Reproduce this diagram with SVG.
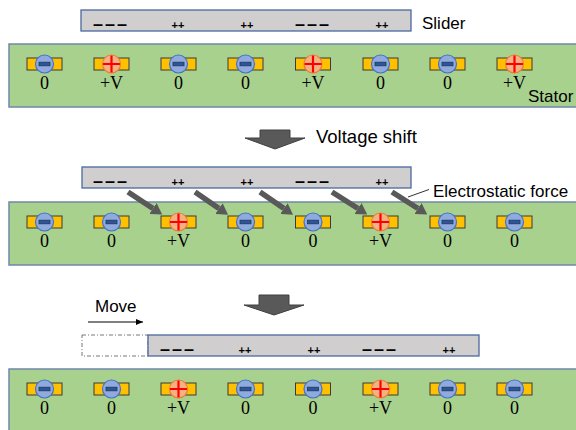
<svg xmlns="http://www.w3.org/2000/svg" xmlns:xlink="http://www.w3.org/1999/xlink" width="576" height="430" viewBox="0 0 576 430">
<style>
.stator{fill:#A9D18E;stroke:#6F87AB;stroke-width:1.5}
.slider{fill:#D0CECE;stroke:#4A69A0;stroke-width:1.3}
.pad{fill:#FFC000;stroke:#3B3B3B;stroke-width:1}
.nc{fill:#8FAADC;stroke:#4472C4;stroke-width:1.2}
.nb{fill:#2F5597;stroke:#1F3864;stroke-width:0.8}
.pc{fill:#F4B183;stroke:#ED7D31;stroke-width:1.2}
.px{stroke:#FF0000;stroke-width:2.2;fill:none}
.num{font-family:"Liberation Serif","Times New Roman",serif;font-size:18px;fill:#000;text-anchor:middle}
.lbl{font-family:"Liberation Sans",Arial,sans-serif;font-size:17px;fill:#000}
.minus{font-family:"Liberation Sans",Arial,sans-serif;font-size:18px;font-weight:bold;letter-spacing:2px;fill:#000;text-anchor:middle}
.plus{font-family:"Liberation Sans",Arial,sans-serif;font-size:11px;font-weight:bold;fill:#000;text-anchor:middle}
.force{stroke:#595959;stroke-width:5.5;fill:none}
.big{fill:#595959;stroke:#404040;stroke-width:1}
.thin{stroke:#000;stroke-width:1;fill:none}
</style>
<defs>
<marker id="fh" markerUnits="userSpaceOnUse" markerWidth="11" markerHeight="13" viewBox="0 -6.5 11 13" refX="0" refY="0" orient="auto">
<path d="M0,-6.5 L11,0 L0,6.5 z" fill="#595959"/>
</marker>
<marker id="mh" markerUnits="userSpaceOnUse" markerWidth="7" markerHeight="6" viewBox="0 -3 7 6" refX="7" refY="0" orient="auto">
<path d="M0,-3 L7,0 L0,3 z" fill="#000"/>
</marker>
<g id="neg">
<rect x="-17.5" y="-6" width="35" height="12" class="pad"/>
<circle r="9" class="nc"/>
<rect x="-5.5" y="-1.8" width="11" height="3.6" class="nb"/>
</g>
<g id="pos">
<rect x="-17.5" y="-6" width="35" height="12" class="pad"/>
<circle r="9" class="pc"/>
<path d="M-8.5,0H8.5M0,-8.5V8.5" class="px"/>
</g>
</defs>

<!-- Stage 1 -->
<g id="stator1">
<rect x="9" y="44" width="570" height="63" class="stator"/>
<text x="528" y="102" class="lbl">Stator</text>
</g>
<g id="slider1">
<rect x="81" y="10" width="330" height="21" class="slider"/>
<text x="111" y="29.5" class="minus">–––</text>
<text x="178" y="29" class="plus">++</text>
<text x="247" y="29" class="plus">++</text>
<text x="313" y="29.5" class="minus">–––</text>
<text x="382" y="29" class="plus">++</text>
<text x="422" y="29" class="lbl">Slider</text>
</g>
<g id="s1e1"><use xlink:href="#neg" x="44.5" y="64"/><text x="44.5" y="89" class="num">0</text></g>
<g id="s1e2"><use xlink:href="#pos" x="111.5" y="64"/><text x="111.5" y="89" class="num">+V</text></g>
<g id="s1e3"><use xlink:href="#neg" x="178.5" y="64"/><text x="178.5" y="89" class="num">0</text></g>
<g id="s1e4"><use xlink:href="#neg" x="245.5" y="64"/><text x="245.5" y="89" class="num">0</text></g>
<g id="s1e5"><use xlink:href="#pos" x="313" y="64"/><text x="313" y="89" class="num">+V</text></g>
<g id="s1e6"><use xlink:href="#neg" x="380.5" y="64"/><text x="380.5" y="89" class="num">0</text></g>
<g id="s1e7"><use xlink:href="#neg" x="447.5" y="64"/><text x="447.5" y="89" class="num">0</text></g>
<g id="s1e8"><use xlink:href="#pos" x="514.5" y="64"/><text x="514.5" y="89" class="num">+V</text></g>

<g id="step1">
<polygon points="260,130 290,130 290,138 305,138 275,149 245,138 260,138" class="big"/>
<text x="316" y="143" class="lbl" style="font-size:18.5px">Voltage shift</text>
</g>

<!-- Stage 2 -->
<g id="stator2">
<rect x="9" y="202" width="570" height="63" class="stator"/>
</g>
<g id="slider2">
<rect x="82" y="167" width="329" height="21" class="slider"/>
<text x="111" y="186.5" class="minus">–––</text>
<text x="178" y="186" class="plus">++</text>
<text x="247" y="186" class="plus">++</text>
<text x="313" y="186.5" class="minus">–––</text>
<text x="382" y="186" class="plus">++</text>
</g>
<g id="s2e1"><use xlink:href="#neg" x="44.5" y="222"/><text x="44.5" y="247" class="num">0</text></g>
<g id="s2e2"><use xlink:href="#neg" x="111.5" y="222"/><text x="111.5" y="247" class="num">0</text></g>
<g id="s2e3"><use xlink:href="#pos" x="178.5" y="222"/><text x="178.5" y="247" class="num">+V</text></g>
<g id="s2e4"><use xlink:href="#neg" x="245.5" y="222"/><text x="245.5" y="247" class="num">0</text></g>
<g id="s2e5"><use xlink:href="#neg" x="313" y="222"/><text x="313" y="247" class="num">0</text></g>
<g id="s2e6"><use xlink:href="#pos" x="380.5" y="222"/><text x="380.5" y="247" class="num">+V</text></g>
<g id="s2e7"><use xlink:href="#neg" x="447.5" y="222"/><text x="447.5" y="247" class="num">0</text></g>
<g id="s2e8"><use xlink:href="#neg" x="514.5" y="222"/><text x="514.5" y="247" class="num">0</text></g>

<g id="forceLabel">
<text x="433" y="197" class="lbl">Electrostatic force</text>
</g>

<g id="step2">
<polygon points="259,295 289,295 289,305 304,305 274,315 244,305 259,305" class="big"/>
</g>
<g id="moveLabel">
<text x="95" y="312" class="lbl">Move</text>
</g>

<!-- Stage 3 -->
<g id="stator3">
<rect x="9" y="369" width="570" height="66" class="stator"/>
</g>
<g id="ghost">
<rect x="82" y="335" width="66" height="21" fill="#fff" stroke="#555" stroke-width="0.8" stroke-dasharray="4 2 1 2"/>
</g>
<g id="slider3">
<rect x="148" y="335" width="331" height="21" class="slider"/>
<text x="178" y="354.5" class="minus">–––</text>
<text x="245" y="354" class="plus">++</text>
<text x="314" y="354" class="plus">++</text>
<text x="380" y="354.5" class="minus">–––</text>
<text x="449" y="354" class="plus">++</text>
</g>
<g id="s3e1"><use xlink:href="#neg" x="44.5" y="389"/><text x="44.5" y="414" class="num">0</text></g>
<g id="s3e2"><use xlink:href="#neg" x="111.5" y="389"/><text x="111.5" y="414" class="num">0</text></g>
<g id="s3e3"><use xlink:href="#pos" x="178.5" y="389"/><text x="178.5" y="414" class="num">+V</text></g>
<g id="s3e4"><use xlink:href="#neg" x="245.5" y="389"/><text x="245.5" y="414" class="num">0</text></g>
<g id="s3e5"><use xlink:href="#neg" x="313" y="389"/><text x="313" y="414" class="num">0</text></g>
<g id="s3e6"><use xlink:href="#pos" x="380.5" y="389"/><text x="380.5" y="414" class="num">+V</text></g>
<g id="s3e7"><use xlink:href="#neg" x="447.5" y="389"/><text x="447.5" y="414" class="num">0</text></g>
<g id="s3e8"><use xlink:href="#neg" x="514.5" y="389"/><text x="514.5" y="414" class="num">0</text></g>

<g id="connectors">
<line x1="128" y1="192" x2="153" y2="208.5" class="force" marker-end="url(#fh)"/>
<line x1="195" y1="192" x2="219" y2="208.5" class="force" marker-end="url(#fh)"/>
<line x1="260" y1="192" x2="284" y2="208.5" class="force" marker-end="url(#fh)"/>
<line x1="332" y1="192" x2="358" y2="208.5" class="force" marker-end="url(#fh)"/>
<line x1="392" y1="192" x2="418" y2="208.5" class="force" marker-end="url(#fh)"/>
<line x1="408" y1="197" x2="429" y2="189.5" stroke="#333" stroke-width="1"/>
<line x1="88" y1="322" x2="143" y2="322" class="thin" marker-end="url(#mh)"/>
</g>
</svg>
